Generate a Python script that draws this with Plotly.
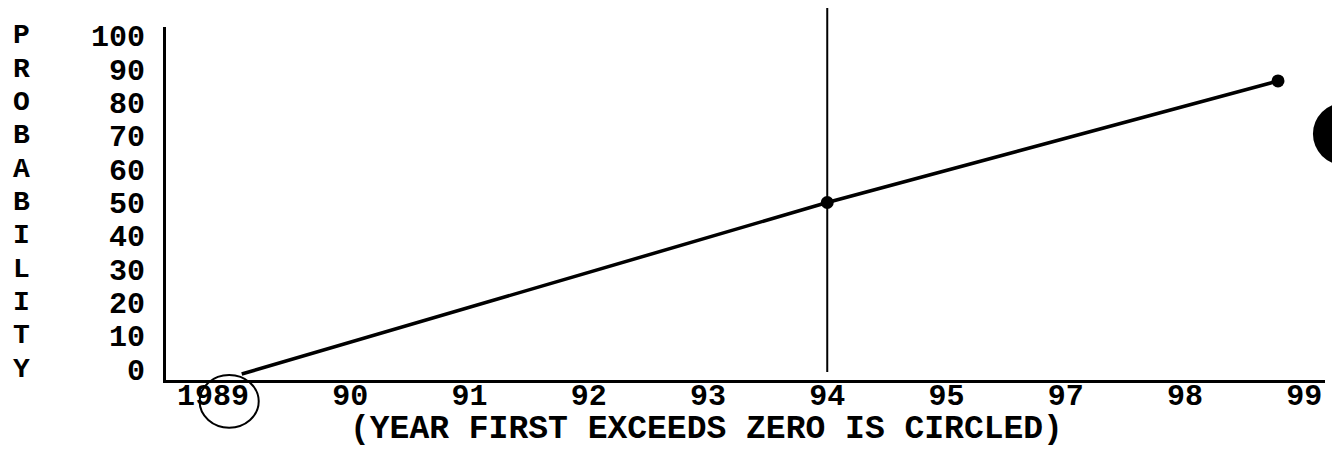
import plotly.graph_objects as go

# ---- data ----
year_labels = ["1989", "90", "91", "92", "93", "94", "95", "97", "98", "99"]
year_pos = [0, 1, 2, 3, 4, 5, 6, 7, 8, 9]          # evenly spaced axis slots
prob_ticks = [0, 10, 20, 30, 40, 50, 60, 70, 80, 90, 100]
ylabel_letters = list("PROBABILITY")

line_x = [0.09, 5.0, 8.78]       # position along year slots
line_y = [-1.5, 50.0, 86.5]      # probability (%)
marker_x = [5.0, 8.78]
marker_y = [50.0, 86.5]
ref_year_pos = 5.0               # vertical reference line at 94

X_RANGE = [-0.545, 9.174]
Y_RANGE = [-3.3, 102.7]

FONT = dict(family="Liberation Mono, Courier New, monospace", color="black", weight="bold")

fig = go.Figure()
fig.add_trace(go.Scatter(x=line_x, y=line_y, mode="lines",
                         line=dict(color="black", width=3.5), hoverinfo="skip"))
fig.add_trace(go.Scatter(x=marker_x, y=marker_y, mode="markers",
                         marker=dict(color="black", size=13), cliponaxis=False,
                         hoverinfo="skip"))

tick_text = [("1989\u00a0\u00a0" if t == "1989" else t) for t in year_labels]

fig.update_layout(
    width=1340, height=450,
    margin=dict(l=158, r=23, t=19, b=78, autoexpand=False),
    paper_bgcolor="white", plot_bgcolor="white",
    showlegend=False,
    font=dict(size=30, **FONT),
    xaxis=dict(range=X_RANGE, tickvals=year_pos, ticktext=tick_text,
               showgrid=False, zeroline=False, showline=True, linecolor="black",
               linewidth=3, ticks="outside", ticklen=0, ticklabelstandoff=-14,
               automargin=False, tickfont=dict(size=30, **FONT)),
    yaxis=dict(range=Y_RANGE, tickvals=prob_ticks,
               ticktext=[str(v) for v in prob_ticks],
               showgrid=False, zeroline=False, showline=True, linecolor="black",
               linewidth=3, ticks="outside", ticklen=0, ticklabelstandoff=12,
               automargin=False, tickfont=dict(size=30, **FONT)),
)

def xpaper(v):
    return (v - X_RANGE[0]) / (X_RANGE[1] - X_RANGE[0])

shapes = [
    # vertical reference line at 94 (extends above the plot)
    dict(type="line", xref="paper", yref="paper",
         x0=xpaper(ref_year_pos), x1=xpaper(ref_year_pos), y0=0.023, y1=1.054,
         line=dict(color="black", width=2)),
    # hand-drawn circle around "89"
    dict(type="circle", xref="paper", yref="paper",
         x0=0.029, x1=0.080, y0=-0.135, y1=0.014,
         line=dict(color="black", width=2)),
    # scan blob at right edge
    dict(type="circle", xref="paper", yref="paper",
         x0=0.9896, x1=1.043, y0=0.609, y1=0.785,
         fillcolor="black", line=dict(color="black", width=0)),
]
fig.update_layout(shapes=shapes)

annotations = []
for letter, yv in zip(ylabel_letters, prob_ticks[::-1]):
    annotations.append(dict(text=letter, xref="paper", yref="y", x=-0.125, y=yv,
                            showarrow=False, xanchor="center", yanchor="middle",
                            font=dict(size=28, **FONT)))
annotations.append(dict(text="(YEAR FIRST EXCEEDS ZERO IS CIRCLED)",
                        xref="paper", yref="paper", x=0.466, y=-0.1416,
                        showarrow=False, xanchor="center", yanchor="middle",
                        font=dict(size=33, **FONT)))
fig.update_layout(annotations=annotations)

fig.write_html("out.html")
